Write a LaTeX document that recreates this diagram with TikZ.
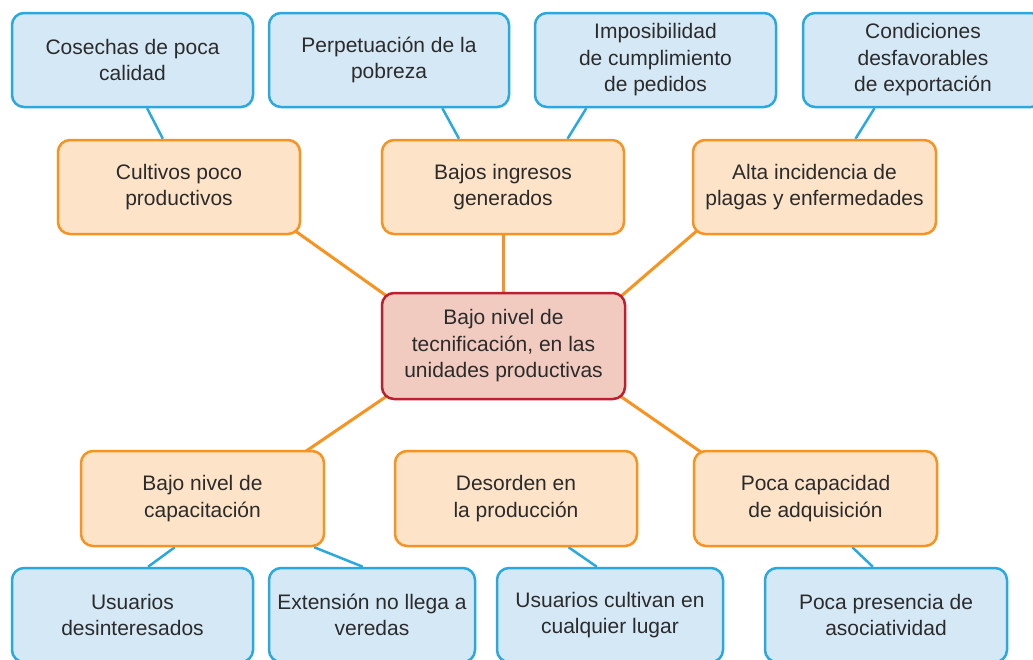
\documentclass[tikz,border=0pt]{standalone}
\usepackage{fontspec}
\setmainfont{Liberation Sans}
\usetikzlibrary{calc,backgrounds}
\definecolor{bblue}{HTML}{29A9E0}
\definecolor{fblue}{HTML}{D5E8F6}
\definecolor{borange}{HTML}{F7931E}
\definecolor{forange}{HTML}{FDE3C8}
\definecolor{bred}{HTML}{BE1E2D}
\definecolor{fred}{HTML}{F1CBBF}
\definecolor{txt}{HTML}{2B2B2B}
\tikzset{
  box/.style={rectangle, rounded corners=12pt, line width=2.5pt, align=center,
    text=txt, font=\fontsize{21pt}{26.5pt}\selectfont, inner sep=0pt, minimum height=94pt},
  bluebox/.style={box, draw=bblue, fill=fblue},
  orangebox/.style={box, draw=borange, fill=forange},
  centerbox/.style={box, draw=bred, fill=fred, minimum height=106pt, minimum width=243pt},
  blueline/.style={draw=bblue, line width=2.5pt},
  orangeline/.style={draw=borange, line width=3pt},
  into/.style={shorten <=-10pt, shorten >=-10pt},
}
\begin{document}
\begin{tikzpicture}[x=1pt,y=-1pt]
\useasboundingbox (0,0) rectangle (1033,659);
\clip (0,0) rectangle (1033,659);
% top blue boxes
\node[bluebox, minimum width=241pt] (t1) at (132.5,60) {Cosechas de poca\\calidad};
\node[bluebox, minimum width=240pt] (t2) at (389,60) {Perpetuación de la\\pobreza};
\node[bluebox, minimum width=241pt] (t3) at (655.5,60) {Imposibilidad\\de cumplimiento\\de pedidos};
\node[bluebox, minimum width=240pt] (t4) at (923,60) {Condiciones\\desfavorables\\de exportación};
% middle orange boxes
\node[orangebox, minimum width=242pt] (m1) at (179,187) {Cultivos poco\\productivos};
\node[orangebox, minimum width=242pt] (m2) at (503,187) {Bajos ingresos\\generados};
\node[orangebox, minimum width=243pt] (m3) at (814.5,187) {Alta incidencia de\\plagas y enfermedades};
% center
\node[centerbox] (c) at (503.5,346) {Bajo nivel de\\tecnificación, en las\\unidades productivas};
% bottom orange boxes
\node[orangebox, minimum width=243pt, minimum height=95pt] (b1) at (202.5,498.5) {Bajo nivel de\\capacitación};
\node[orangebox, minimum width=242pt, minimum height=95pt] (b2) at (516,498.5) {Desorden en\\la producción};
\node[orangebox, minimum width=243pt, minimum height=95pt] (b3) at (815.5,498.5) {Poca capacidad\\de adquisición};
% bottom blue boxes
\node[bluebox, minimum width=241pt] (u1) at (132.5,615) {Usuarios\\desinteresados};
\node[bluebox, minimum width=206pt] (u2) at (372,615) {Extensión no llega a\\veredas};
\node[bluebox, minimum width=226pt] (u3) at (610,615) {Usuarios cultivan en\\cualquier lugar};
\node[bluebox, minimum width=242pt] (u4) at (886,615) {Poca presencia de\\asociatividad};
\begin{scope}[on background layer]
% blue connectors
\draw[blueline] ($(t1.south west)!0.56!(t1.south east)$) -- ($(m1.north west)!0.434!(m1.north east)$);
\draw[blueline] ($(t2.south west)!0.72!(t2.south east)$) -- ($(m2.north west)!0.32!(m2.north east)$);
\draw[blueline] ($(t3.south west)!0.216!(t3.south east)$) -- ($(m2.north west)!0.764!(m2.north east)$);
\draw[blueline] ($(t4.south west)!0.30!(t4.south east)$) -- ($(m3.north west)!0.667!(m3.north east)$);
\draw[blueline] ($(b1.south west)!0.387!(b1.south east)$) -- ($(u1.north west)!0.564!(u1.north east)$);
\draw[blueline] ($(b1.south west)!0.955!(b1.south east)$) -- ($(u2.north west)!0.456!(u2.north east)$);
\draw[blueline] ($(b2.south west)!0.715!(b2.south east)$) -- ($(u3.north west)!0.442!(u3.north east)$);
\draw[blueline] ($(b3.south west)!0.65!(b3.south east)$) -- ($(u4.north west)!0.446!(u4.north east)$);
% orange connectors
\draw[orangeline, into] (m1.south east) -- (c.north west);
\draw[orangeline] (m2.south) -- (m2.south |- c.north);
\draw[orangeline, into] (m3.south west) -- (c.north east);
\draw[orangeline, into] (c.south west) -- ($(b1.north west)!0.93!(b1.north east)$);
\draw[orangeline] ($(b2.north west)!0.442!(b2.north east)$ |- c.south) -- ($(b2.north west)!0.442!(b2.north east)$);
\draw[orangeline, into] (c.south east) -- ($(b3.north west)!0.02!(b3.north east)$);
\end{scope}
\end{tikzpicture}
\end{document}
